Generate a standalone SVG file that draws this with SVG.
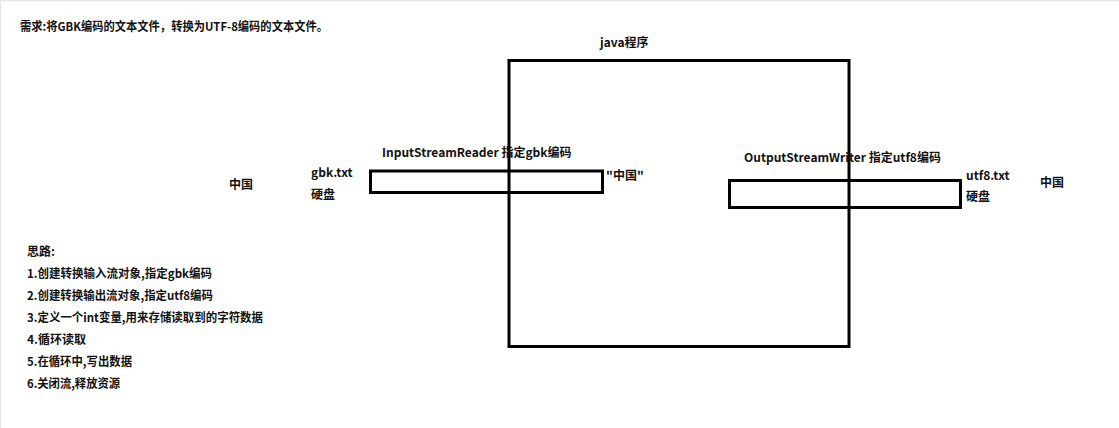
<svg xmlns="http://www.w3.org/2000/svg" width="1119" height="428" viewBox="0 0 1119 428">
<style>
text{font-family:"Noto Sans CJK SC","Microsoft YaHei",sans-serif;font-size:12px;font-weight:bold;fill:#111}
.box{fill:none;stroke:#000;stroke-width:3}
</style>
<rect x="0" y="0" width="1119" height="428" fill="#fff"/>
<path d="M0.5,428V0.5H1119" fill="none" stroke="#e6e6e6" stroke-width="1.5"/>
<g id="title"><text x="20" y="31" textLength="308" lengthAdjust="spacingAndGlyphs">需求:将GBK编码的文本文件，转换为UTF-8编码的文本文件。</text></g>
<g id="java-program">
<rect class="box" x="509" y="60.5" width="340" height="286"/>
<text x="600" y="47">java程序</text>
</g>
<g id="input-stream-reader">
<rect class="box" x="370.5" y="171" width="232" height="21.5"/>
<text x="382" y="157">InputStreamReader 指定gbk编码</text>
</g>
<g id="output-stream-writer">
<rect class="box" x="729.5" y="180.5" width="231" height="27"/>
<text x="744" y="162">OutputStreamWriter 指定utf8编码</text>
</g>
<g id="source-text"><text x="229" y="189">中国</text></g>
<g id="gbk-file">
<text x="311" y="177">gbk.txt</text>
<text x="311" y="199">硬盘</text>
</g>
<g id="string-value"><text x="606" y="180">"中国"</text></g>
<g id="utf8-file">
<text x="966" y="180">utf8.txt</text>
<text x="966" y="201">硬盘</text>
</g>
<g id="target-text"><text x="1040" y="187">中国</text></g>
<g id="steps">
<text x="27" y="256">思路:</text>
<text x="27" y="278" textLength="185" lengthAdjust="spacingAndGlyphs">1.创建转换输入流对象,指定gbk编码</text>
<text x="27" y="300" textLength="186" lengthAdjust="spacingAndGlyphs">2.创建转换输出流对象,指定utf8编码</text>
<text x="27" y="322" textLength="236" lengthAdjust="spacingAndGlyphs">3.定义一个int变量,用来存储读取到的字符数据</text>
<text x="27" y="344">4.循环读取</text>
<text x="27" y="366" textLength="105" lengthAdjust="spacingAndGlyphs">5.在循环中,写出数据</text>
<text x="27" y="388" textLength="93" lengthAdjust="spacingAndGlyphs">6.关闭流,释放资源</text>
</g>
<g id="connectors"></g>
</svg>
